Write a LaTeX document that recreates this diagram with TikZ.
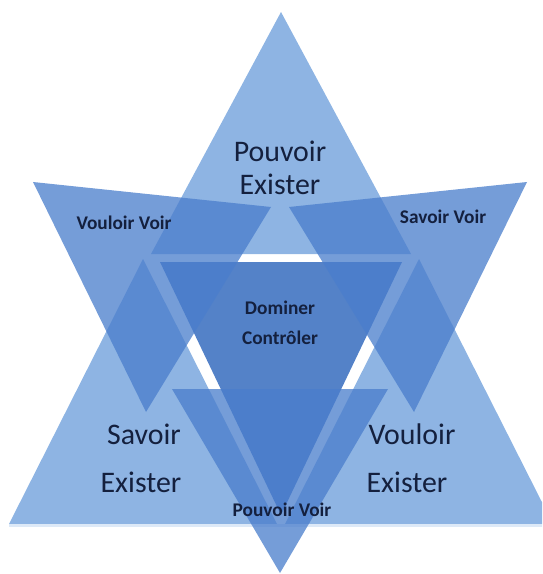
\documentclass[tikz,border=0pt]{standalone}
\usepackage{fontspec}
\setmainfont{Carlito}
\usetikzlibrary{positioning}
\definecolor{uplight}{RGB}{142,180,227}
\definecolor{upcore}{RGB}{84,130,200}
\definecolor{downblue}{RGB}{74,126,204}
\definecolor{navy}{RGB}{20,32,62}

\begin{document}
\begin{tikzpicture}[
    x = 0.02cm, y = -0.02cm,
    upseg/.style    = {fill=uplight},
    coreseg/.style  = {fill=upcore},
    downseg/.style  = {fill=downblue, fill opacity=0.76},
    biglbl/.style   = {text=navy, font=\fontsize{17}{20}\selectfont},
    smalllbl/.style = {text=navy, font=\bfseries\fontsize{11}{13}\selectfont},
  ]
  \useasboundingbox (0,0) rectangle (542,574);
  \clip (0,0) rectangle (542,574);

  % upward pyramid: three corners and the core
  \fill[upseg]   (281,12) -- (151,254) -- (411,254) -- cycle;
  \fill[upseg]   (143,259) -- (9,524) -- (277,524) -- cycle;
  \fill[upseg]   (419,259) -- (553,524) -- (285,524) -- cycle;
  \fill[coreseg] (160,262) -- (402,262) -- (281,515) -- cycle;
  \draw[white!70!uplight, line width=1.2pt] (9,525.5) -- (553,525.5);

  % downward pyramid, see-through
  \fill[downseg] (33,182) -- (271,207) -- (146,412) -- cycle;
  \fill[downseg] (527,182) -- (289,207) -- (414,412) -- cycle;
  \fill[downseg] (172,389) -- (388,389) -- (280,573) -- cycle;

  % labels
  \node[biglbl] (pe1) at (280,151) {Pouvoir};
  \node[biglbl] (pe2) at (280,184) {Exister};
  \node[biglbl] (se1) at (144,434) {Savoir};
  \node[biglbl] (se2) at (141,482) {Exister};
  \node[biglbl] (ve1) at (412,434) {Vouloir};
  \node[biglbl] (ve2) at (407,482) {Exister};
  \node[smalllbl] (vv) at (124,223) {Vouloir Voir};
  \node[smalllbl] (sv) at (443,217) {Savoir Voir};
  \node[smalllbl] (pv) at (282,510) {Pouvoir Voir};
  \node[smalllbl] (dm) at (280,308) {Dominer};
  \node[smalllbl] (ct) at (280,338) {Contrôler};
\end{tikzpicture}
\end{document}
